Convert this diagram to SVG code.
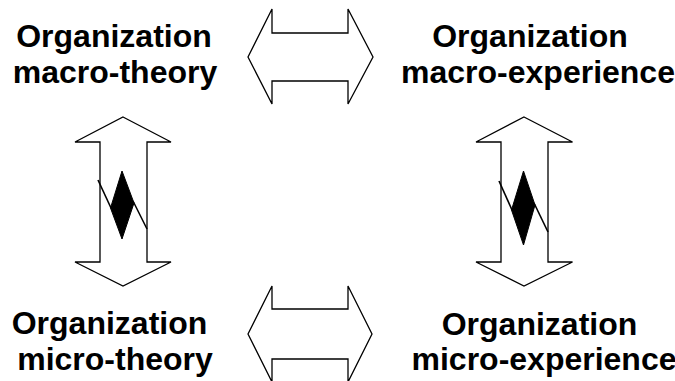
<svg xmlns="http://www.w3.org/2000/svg" width="675" height="381" viewBox="0 0 675 381">
<style>
.lbl{font-family:"Liberation Sans",Arial,sans-serif;font-weight:bold;font-size:32px;fill:#000;text-anchor:middle}
.arr{fill:#fff;stroke:#000;stroke-width:1.3;stroke-linejoin:miter}
.bolt{fill:#000;stroke:#000;stroke-width:1}
.bline{fill:none;stroke:#000;stroke-width:1.6}
</style>
<rect width="675" height="381" fill="#fff"/>
<g id="macro-theory">
<text class="lbl" x="114" y="47">Organization</text>
<text class="lbl" x="115" y="83">macro-theory</text>
</g>
<g id="macro-experience">
<text class="lbl" x="530" y="47">Organization</text>
<text class="lbl" x="538" y="83">macro-experience</text>
</g>
<g id="micro-theory">
<text class="lbl" x="109.5" y="334">Organization</text>
<text class="lbl" x="115" y="370">micro-theory</text>
</g>
<g id="micro-experience">
<text class="lbl" x="539.5" y="335">Organization</text>
<text class="lbl" x="544" y="370">micro-experience</text>
</g>
<g id="connectors">
<polygon class="arr" points="248,57 272,9 272,33 348,33 348,9 373,57 348,104 348,81 272,81 272,104"/>
<polygon class="arr" points="248,334 272,286 272,309 348,309 348,286 372,334 348,382 348,359 272,359 272,382"/>
<polygon class="arr" points="123,117 171,142 147,142 147,262 171,262 123,286 75,262 100,262 100,142 75,142"/>
<polygon class="arr" points="524,117 572.5,142 548,142 548,262 572.5,262 524,286 476,262 501,262 501,142 476,142"/>
<polyline class="bline" points="98,180 111,208"/>
<polygon class="bolt" points="122,171 134,203 122,239 110.5,208"/>
<polyline class="bline" points="133,201 147,229"/>
<polyline class="bline" points="499,181 512,210"/>
<polygon class="bolt" points="523.5,171 535,205 523.5,245 511.5,210"/>
<polyline class="bline" points="534,203 548,232"/>
</g>
</svg>
